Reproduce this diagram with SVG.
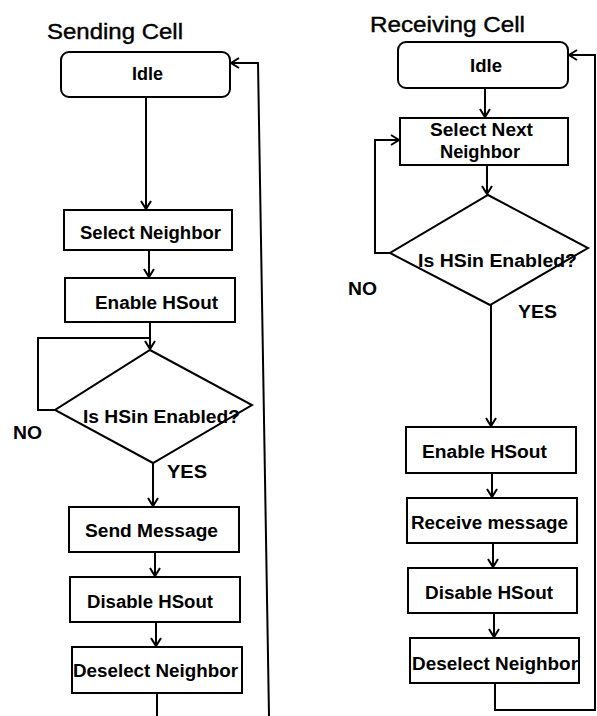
<svg xmlns="http://www.w3.org/2000/svg" width="597" height="716" viewBox="0 0 597 716">
<style>
.box{fill:#fff;stroke:#000;stroke-width:2}
.ln{fill:none;stroke:#000;stroke-width:2}
.t{font-family:"Liberation Sans",Arial,sans-serif;font-size:18px;font-weight:bold;fill:#000}
.title{font-family:"Liberation Sans",Arial,sans-serif;font-size:22px;fill:#000;stroke:#000;stroke-width:0.4}
.lbl{font-family:"Liberation Sans",Arial,sans-serif;font-size:18px;font-weight:bold;fill:#000}
</style>
<defs>
<marker id="ah" markerWidth="12" markerHeight="12" viewBox="-10 -6 12 12" refX="0" refY="0" orient="auto" markerUnits="userSpaceOnUse">
<path d="M-8,-5 L0,0 L-8,5" fill="none" stroke="#000" stroke-width="2"/>
</marker>
</defs>
<rect width="597" height="716" fill="#fff"/>
<text class="title" x="47" y="39" textLength="136" lengthAdjust="spacingAndGlyphs">Sending Cell</text>
<text class="title" x="370" y="32" textLength="155" lengthAdjust="spacingAndGlyphs">Receiving Cell</text>

<g id="connectors">
<path class="ln" d="M146,97 L146,209" marker-end="url(#ah)"/>
<path class="ln" d="M149,250 L149,277" marker-end="url(#ah)"/>
<path class="ln" d="M150,322 L150,349" marker-end="url(#ah)"/>
<path class="ln" d="M55,410 L38,410 L38,338 L150,338"/>
<path class="ln" d="M153,463 L153,506" marker-end="url(#ah)"/>
<path class="ln" d="M155,552 L155,576" marker-end="url(#ah)"/>
<path class="ln" d="M156,622 L156,646" marker-end="url(#ah)"/>
<path class="ln" d="M157,693 L157,716"/>
<path class="ln" d="M269,716 L258,63 L231,63" marker-end="url(#ah)"/>

<path class="ln" d="M485,88 L485,117" marker-end="url(#ah)"/>
<path class="ln" d="M487,165 L487,194" marker-end="url(#ah)"/>
<path class="ln" d="M390,253 L375,253 L375,140 L399,140" marker-end="url(#ah)"/>
<path class="ln" d="M491,305 L491,426" marker-end="url(#ah)"/>
<path class="ln" d="M492,473 L492,497" marker-end="url(#ah)"/>
<path class="ln" d="M493,543 L493,567" marker-end="url(#ah)"/>
<path class="ln" d="M494,613 L494,637" marker-end="url(#ah)"/>
<path class="ln" d="M495,683 L495,710 L595,710 L595,55 L569,55" marker-end="url(#ah)"/>
</g>

<g id="s-idle">
<rect class="box" x="61" y="52" width="169" height="45" rx="8"/>
<text class="t" x="132" y="80" textLength="31" lengthAdjust="spacingAndGlyphs">Idle</text>
</g>
<g id="s-select">
<rect class="box" x="64" y="210" width="168" height="40"/>
<text class="t" x="80" y="239" textLength="141" lengthAdjust="spacingAndGlyphs">Select Neighbor</text>
</g>
<g id="s-enable">
<rect class="box" x="65" y="278" width="170" height="44"/>
<text class="t" x="95" y="309" textLength="123" lengthAdjust="spacingAndGlyphs">Enable HSout</text>
</g>
<g id="s-decision">
<polygon class="box" points="150,350 252,405 153,463 55,410"/>
<text class="t" x="83" y="423" textLength="157" lengthAdjust="spacingAndGlyphs">Is HSin Enabled?</text>
</g>
<text class="lbl" x="13" y="439" textLength="29" lengthAdjust="spacingAndGlyphs">NO</text>
<text class="lbl" x="167" y="478" textLength="40" lengthAdjust="spacingAndGlyphs">YES</text>
<g id="s-send">
<rect class="box" x="69" y="507" width="170" height="45"/>
<text class="t" x="85" y="537" textLength="133" lengthAdjust="spacingAndGlyphs">Send Message</text>
</g>
<g id="s-disable">
<rect class="box" x="70" y="577" width="170" height="45"/>
<text class="t" x="87" y="608" textLength="126" lengthAdjust="spacingAndGlyphs">Disable HSout</text>
</g>
<g id="s-deselect">
<rect class="box" x="72" y="647" width="170" height="46"/>
<text class="t" x="73" y="677" textLength="165" lengthAdjust="spacingAndGlyphs">Deselect Neighbor</text>
</g>

<g id="r-idle">
<rect class="box" x="398" y="42" width="170" height="46" rx="8"/>
<text class="t" x="470" y="72" textLength="32" lengthAdjust="spacingAndGlyphs">Idle</text>
</g>
<g id="r-select">
<rect class="box" x="400" y="118" width="168" height="47"/>
<text class="t" x="430" y="136" textLength="103" lengthAdjust="spacingAndGlyphs">Select Next</text>
<text class="t" x="440" y="158" textLength="80" lengthAdjust="spacingAndGlyphs">Neighbor</text>
</g>
<g id="r-decision">
<polygon class="box" points="488,195 588,248 490,305 390,253"/>
<text class="t" x="418" y="267" textLength="159" lengthAdjust="spacingAndGlyphs">Is HSin Enabled?</text>
</g>
<text class="lbl" x="348" y="295" textLength="29" lengthAdjust="spacingAndGlyphs">NO</text>
<text class="lbl" x="518" y="318" textLength="39" lengthAdjust="spacingAndGlyphs">YES</text>
<g id="r-enable">
<rect class="box" x="406" y="427" width="170" height="46"/>
<text class="t" x="422" y="458" textLength="125" lengthAdjust="spacingAndGlyphs">Enable HSout</text>
</g>
<g id="r-receive">
<rect class="box" x="407" y="498" width="170" height="45"/>
<text class="t" x="411" y="529" textLength="157" lengthAdjust="spacingAndGlyphs">Receive message</text>
</g>
<g id="r-disable">
<rect class="box" x="408" y="568" width="169" height="45"/>
<text class="t" x="425" y="599" textLength="128" lengthAdjust="spacingAndGlyphs">Disable HSout</text>
</g>
<g id="r-deselect">
<rect class="box" x="410" y="638" width="169" height="45"/>
<text class="t" x="412" y="670" textLength="166" lengthAdjust="spacingAndGlyphs">Deselect Neighbor</text>
</g>
</svg>
